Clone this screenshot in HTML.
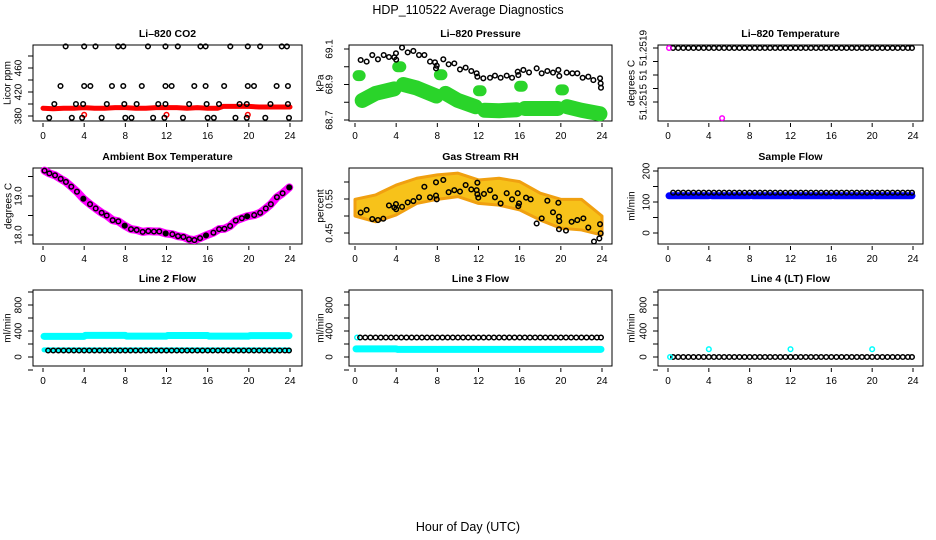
<!DOCTYPE html>
<html><head><meta charset="utf-8"><title>HDP_110522 Average Diagnostics</title>
<style>
html,body{margin:0;padding:0;background:#fff;}
svg{display:block;font-family:"Liberation Sans",sans-serif;}
</style></head>
<body>
<svg id="chart" width="936" height="540" viewBox="0 0 936 540" xmlns="http://www.w3.org/2000/svg">
<text x="468" y="14" font-size="12.5" text-anchor="middle">HDP_110522  Average Diagnostics</text>
<text x="468" y="531" font-size="12.5" text-anchor="middle">Hour of Day (UTC)</text>
</svg>
<script>
// ---------- data ----------
const xTicks = [0,4,8,12,16,20,24];
const halfHours = [0.5,1,1.5,2,2.5,3,3.5,4,4.5,5,5.5,6,6.5,7,7.5,8,8.5,9,9.5,10,10.5,11,11.5,12,12.5,13,13.5,14,14.5,15,15.5,16,16.5,17,17.5,18,18.5,19,19.5,20,20.5,21,21.5,22,22.5,23,23.5,23.9];
const bandHours = [0,2,4,6,8,10,12,14,16,18,20,22,24];

// CO2
const co2BlackT = [2.2,4.0,5.1,7.3,7.8,10.2,11.9,13.1,15.3,15.8,18.2,19.9,21.1,23.2,23.7, 1.7,4.0,4.6,6.7,7.8,9.6,11.9,12.5,14.7,15.8,17.6,19.9,20.5,22.7,23.8, 1.1,3.2,3.9,6.2,7.9,9.1,11.2,11.9,14.2,15.9,17.1,19.1,19.8,22.1,23.8, 0.6,2.8,3.8,5.7,8.0,8.6,10.7,11.8,13.6,16.0,16.6,18.7,19.8,21.6,23.9];
const co2BlackV = [496,496,496,496,496,496,496,496,496,496,496,496,496,496,496, 430,430,430,430,430,430,430,430,430,430,430,430,430,430,430, 400,400,400,400,400,400,400,400,400,400,400,400,400,400,400, 377,377,377,377,377,377,377,377,377,377,377,377,377,377,377];
const co2RedT = [0,1,2,3,4,5,6,7,8,9,10,11,12,13,14,15,16,17,17.5,18,19,20,21,22,23,24];
const co2RedV = [393,392,393,393,394,393,393,394,394,393,393,394,394,394,393,394,393,393,396,396,396,396,395,395,395,395];
const co2OutT = [4.0,12.0,19.9];
const co2OutV = [382,382,382];

// Pressure
const presT = [0.55,1.13,1.68,2.23,2.79,3.30,3.82,3.98,4.0,4.57,5.12,5.67,6.22,6.74,7.29,7.77,7.94,7.87,8.58,9.10,9.65,10.20,10.75,11.30,11.82,11.89,12.47,13.12,13.60,14.15,14.74,15.26,15.81,15.87,16.36,16.91,17.65,18.14,18.69,19.24,19.76,19.85,20.57,21.12,21.60,22.12,22.67,23.16,23.81,23.87,23.9];
const presV = [69.038,69.029,69.066,69.042,69.066,69.055,69.053,69.076,69.040,69.108,69.081,69.089,69.066,69.066,69.029,69.025,69.006,68.991,69.042,69.014,69.019,68.985,68.995,68.976,68.963,68.944,68.935,68.938,68.950,68.938,68.950,68.938,68.972,68.953,68.982,68.968,68.991,68.963,68.976,68.967,68.982,68.948,68.967,68.963,68.963,68.938,68.944,68.925,68.935,68.906,68.882];
const presGreenT = [[0.3,0.5],[0.7,2.0,3.8],[4.15,4.45],[4.7,6.0,7.9],[8.2,8.45],[8.8,10.0,11.7],[12.0,12.25],[12.6,14.0,15.7],[16.0,16.25],[16.5,18.0,19.7],[20.0,20.25],[20.6,22.0,23.8]];
const presGreenV = [[68.95,68.95],[68.81,68.85,68.875],[69.0,69.0],[68.90,68.88,68.835],[68.955,68.955],[68.85,68.81,68.775],[68.865,68.865],[68.755,68.752,68.758],[68.89,68.89],[68.765,68.765,68.765],[68.87,68.87],[68.775,68.755,68.735]];

// Li-820 temperature
const ltBlackV = 51.2519;
const ltMagT = [0.1,5.3];
const ltMagV = [51.2519,51.25138];

// Ambient box temperature
const ambT = [0.15,0.62,1.17,1.72,2.23,2.75,3.30,3.92,4.57,5.12,5.70,6.19,6.77,7.32,7.94,8.55,9.10,9.68,10.23,10.78,11.30,11.92,12.57,13.12,13.64,14.19,14.71,15.26,15.84,16.56,17.11,17.63,18.18,18.73,19.32,19.84,20.52,21.10,21.65,22.14,22.73,23.28,23.93];
const ambV = [19.65,19.58,19.53,19.44,19.36,19.24,19.11,18.93,18.79,18.68,18.57,18.50,18.38,18.35,18.24,18.15,18.13,18.08,18.10,18.09,18.09,18.04,18.02,17.97,17.95,17.89,17.87,17.92,17.99,18.06,18.15,18.16,18.23,18.37,18.43,18.48,18.51,18.57,18.68,18.79,18.97,19.07,19.22];
const ambFilled = [3.92,7.94,11.92,15.84,19.84,23.93];

// Gas stream RH
const rhT = [0.55,1.13,1.68,2.23,2.75,3.30,3.82,3.98,4.0,4.57,5.12,5.67,6.22,6.74,7.29,7.87,7.94,7.87,8.58,9.10,9.65,10.20,10.75,11.30,11.82,11.89,11.89,11.98,12.53,13.12,13.60,14.15,14.74,15.26,15.81,15.94,15.87,16.62,17.07,17.65,18.14,18.69,19.24,19.76,19.82,19.85,19.82,20.50,21.05,21.60,22.19,22.67,23.22,23.74,23.81,23.87];
const rhV = [0.510,0.518,0.491,0.488,0.492,0.531,0.525,0.535,0.520,0.527,0.540,0.544,0.555,0.586,0.555,0.560,0.549,0.599,0.606,0.570,0.576,0.572,0.591,0.578,0.576,0.598,0.564,0.554,0.565,0.576,0.555,0.537,0.567,0.549,0.567,0.537,0.529,0.554,0.549,0.478,0.493,0.545,0.511,0.539,0.498,0.485,0.461,0.457,0.483,0.488,0.493,0.466,0.425,0.434,0.476,0.449];
const rhCloudHi = [0.549,0.562,0.591,0.611,0.621,0.626,0.606,0.611,0.601,0.567,0.549,0.549,0.500];
const rhCloudLo = [0.500,0.483,0.503,0.537,0.549,0.557,0.537,0.532,0.518,0.488,0.464,0.459,0.444];

// Flows
const sampleBlackV = 130;
const sampleBlueSegT = [[0.1,4.0],[4.3,8.0],[8.3,12.0],[12.3,16.0],[16.3,20.0],[20.3,23.9]];
const sampleBlueV = 120;
const line2CyanSegT = [[0.1,4.0],[4.1,8.0],[8.1,12.0],[12.1,16.0],[16.1,20.0],[20.1,23.9]];
const line2CyanV = [318,332,322,330,322,328];
const line2BlackV = 100;
const line3CyanSegT = [[0.1,4.0],[4.1,8.0],[8.1,12.0],[12.1,16.0],[16.1,20.0],[20.1,23.9]];
const line3CyanV = [125,118,118,118,118,118];
const line3BlackV = 300;
const line4BlackV = 0;
const line4CyanT = [0.2,4.0,12.0,20.0];
const line4CyanV = [0,120,120,120];

// ---------- layout ----------
const svg = document.getElementById('chart');
const NS = 'http://www.w3.org/2000/svg';
const cols = [{bx0:33,bx1:302,t0:43,span:247},{bx0:349,bx1:612,t0:355,span:247},{bx0:658,bx1:923,t0:668,span:245}];
const rows = [{by0:45,by1:121},{by0:168,by1:244},{by0:290,by1:366}];
const FS = 10;

function el(tag, attrs, parent){
  const e = document.createElementNS(NS, tag);
  for (const k in attrs) e.setAttribute(k, attrs[k]);
  (parent||svg).appendChild(e);
  return e;
}

function makePanel(ci, ri, title, ylab, yA, yB, ticks, labels, tickLabX, ylabX, name){
  const c = cols[ci], r = rows[ri];
  const g = el('g', {});
  
  
  const xs = t => c.t0 + t * c.span / 24;
  const ys = v => yA[1] + (v - yA[0]) * (yB[1] - yA[1]) / (yB[0] - yA[0]);
  const tt = el('text', {x:(c.bx0+c.bx1)/2, y:r.by0-8, 'font-size':10.5, 'font-weight':'bold', 'text-anchor':'middle'}, g);
  tt.textContent = title;
  
  
  const box = el('rect', {x:c.bx0, y:r.by0, width:c.bx1-c.bx0, height:r.by1-r.by0, fill:'none', stroke:'#000', 'stroke-width':1}, g);
  
  
  xTicks.forEach(t => {
    const x = xs(t);
    const tk = el('line', {x1:x, x2:x, y1:r.by1+2, y2:r.by1+6, stroke:'#000'}, g);
    
    
    const lb = el('text', {x:x, y:r.by1+18, 'font-size':FS, 'text-anchor':'middle'}, g);
    lb.textContent = t;
    
    
  });
  ticks.forEach(v => {
    const y = ys(v);
    const tk = el('line', {x1:c.bx0-5, x2:c.bx0, y1:y, y2:y, stroke:'#000'}, g);
    
    
  });
  labels.forEach(l => {
    const y = ys(l[0]);
    const lb = el('text', {x:0, y:0, 'font-size':FS, 'text-anchor':'middle', transform:`translate(${tickLabX+3.5},${y}) rotate(-90)`}, g);
    lb.textContent = l[1];
    
    
  });
  const yl = el('text', {x:0, y:0, 'font-size':FS, 'text-anchor':'middle', transform:`translate(${ylabX+3.5},${(r.by0+r.by1)/2}) rotate(-90)`}, g);
  yl.textContent = ylab;
  
  
  const plot = el('g', {}, g);
  
  
  return {xs, ys, g: plot};
}

function circ(p, t, v, color, name, r, fill){
  const c = el('circle', {cx:p.xs(t), cy:p.ys(v), r:r||2.3, fill:fill||'none', stroke:color, 'stroke-width':1.5}, p.g);
  
  
  return c;
}
function band(p, ts, vs, color, w, name){
  const pts = ts.map((t,i) => p.xs(t)+','+p.ys(vs[i])).join(' ');
  const pl = el('polyline', {points:pts, fill:'none', stroke:color, 'stroke-width':w, 'stroke-linecap':'round', 'stroke-linejoin':'round'}, p.g);
  
  
  return pl;
}

// Panel 1: CO2
const p1 = makePanel(0,0,'Li\u2013820 CO2','Licor ppm',[380,116],[420,92],[380,400,420,440,460,480],[[380,'380'],[420,'420'],[460,'460']],18,7,'co2');
band(p1, co2RedT, co2RedV, '#ff0000', 5, 'co2-red-series');
co2OutT.forEach((t,i) => circ(p1, t, co2OutV[i], '#ff0000', 'co2-red-point'));
co2BlackT.forEach((t,i) => circ(p1, t, co2BlackV[i], '#000', 'co2-black-point'));

// Panel 2: Pressure
const p2 = makePanel(1,0,'Li\u2013820 Pressure','kPa',[69.1,49],[68.7,120],[68.7,68.8,68.9,69.0,69.1],[[68.7,'68.7'],[68.9,'68.9'],[69.1,'69.1']],329,320,'pressure');
presGreenT.forEach((seg,i) => {
  const thick = seg.length > 2 ? 15 : 11;
  band(p2, seg, presGreenV[i], '#2ad42a', thick, 'pressure-green-cluster');
});
presT.forEach((t,i) => circ(p2, t, presV[i], '#000', 'pressure-black-point'));

// Panel 3: Li-820 temperature
const p3 = makePanel(2,0,'Li\u2013820 Temperature','degrees C',[51.2519,48],[51.2515,102],[51.2519,51.2518,51.2517,51.2516,51.2515],[[51.2519,'51.2519'],[51.2517,'51'],[51.2515,'51.2515']],643,631,'li820-temp');
halfHours.forEach(t => circ(p3, t, ltBlackV, '#000', 'li820-temp-black-point'));
ltMagT.forEach((t,i) => circ(p3, t, ltMagV[i], '#ff00ff', 'li820-temp-magenta-point'));

// Panel 4: Ambient box temperature
const p4 = makePanel(0,1,'Ambient Box Temperature','degrees C',[19.0,196],[18.0,235],[18.0,18.5,19.0,19.5],[[18.0,'18.0'],[19.0,'19.0']],18,8,'ambient-temp');
band(p4, ambT, ambV, '#ff00ff', 8, 'ambient-temp-magenta-series');
ambT.forEach((t,i) => circ(p4, t, ambV[i], '#000', 'ambient-temp-point', 2.3, ambFilled.indexOf(t) >= 0 ? '#000' : 'none'));

// Panel 5: Gas stream RH
const p5 = makePanel(1,1,'Gas Stream RH','percent',[0.55,199],[0.45,233],[0.45,0.50,0.55,0.60],[[0.45,'0.45'],[0.55,'0.55']],329,320,'rh');
const cloudPts = bandHours.map((t,i) => p5.xs(t)+','+p5.ys(rhCloudHi[i])).concat(bandHours.slice().reverse().map((t,j) => { const i = bandHours.length-1-j; return p5.xs(t)+','+p5.ys(rhCloudLo[i]); })).join(' ');
const cloud = el('polygon', {points:cloudPts, fill:'#f7c21a', stroke:'#f0a010', 'stroke-width':3, 'stroke-linejoin':'round'}, p5.g);


rhT.forEach((t,i) => circ(p5, t, rhV[i], '#000', 'rh-black-point'));

// Panel 6: Sample flow
const p6 = makePanel(2,1,'Sample Flow','ml/min',[0,233],[100,202],[0,50,100,150,200],[[0,'0'],[100,'100'],[200,'200']],646,631,'sample-flow');
sampleBlueSegT.forEach(seg => band(p6, seg, [sampleBlueV, sampleBlueV], '#0000ff', 7, 'sample-flow-blue-series'));
halfHours.forEach(t => circ(p6, t, sampleBlackV, '#000', 'sample-flow-black-point'));

// Panels 7-9: Line flows
const flowTicks = [-200,0,200,400,600,800,1000];
const flowLabels = [[0,'0'],[400,'400'],[800,'800']];
const p7 = makePanel(0,2,'Line 2 Flow','ml/min',[0,357],[400,331],flowTicks,flowLabels,18,7,'line2-flow');
line2CyanSegT.forEach((seg,i) => band(p7, seg, [line2CyanV[i], line2CyanV[i]], '#00ffff', 7, 'line2-flow-cyan-series'));
band(p7, [0.1,23.9], [110,110], '#00ffff', 5, 'line2-flow-cyan-low');
halfHours.forEach(t => circ(p7, t, line2BlackV, '#000', 'line2-flow-black-point'));

const p8 = makePanel(1,2,'Line 3 Flow','ml/min',[0,357],[400,331],flowTicks,flowLabels,329,320,'line3-flow');
line3CyanSegT.forEach((seg,i) => band(p8, seg, [line3CyanV[i], line3CyanV[i]], '#00ffff', 7, 'line3-flow-cyan-series'));
circ(p8, 0.2, 300, '#00ffff', 'line3-flow-cyan-point');
halfHours.forEach(t => circ(p8, t, line3BlackV, '#000', 'line3-flow-black-point'));

const p9 = makePanel(2,2,'Line 4 (LT) Flow','ml/min',[0,357],[400,331],flowTicks,flowLabels,643,631,'line4-flow');
halfHours.forEach(t => circ(p9, t, line4BlackV, '#000', 'line4-flow-black-point'));
line4CyanT.forEach((t,i) => circ(p9, t, line4CyanV[i], '#00ffff', 'line4-flow-cyan-point'));
</script>
</body></html>
